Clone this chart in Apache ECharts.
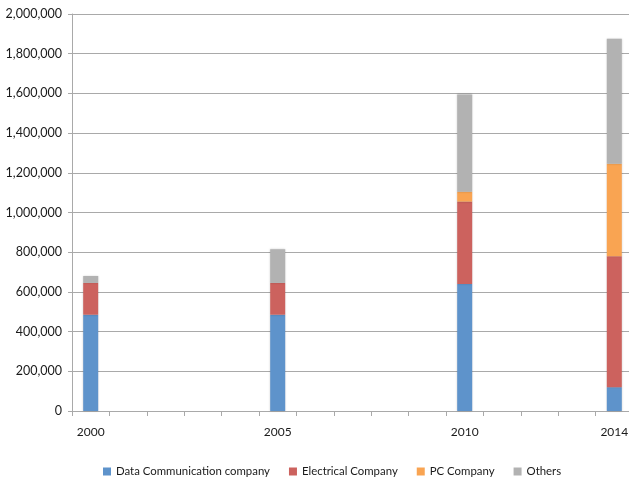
<!DOCTYPE html>
<html>
<head>
<meta charset="utf-8">
<script src="https://cdn.jsdelivr.net/npm/echarts@6/dist/echarts.min.js"></script>
<style>
  html, body { margin: 0; padding: 0; background: #fff; }
  #chart { width: 629px; height: 480px; }
</style>
</head>
<body>
<div id="chart"></div>
<script>
// Years on the category axis; only a few of them carry a label
const years = ['2000','2001','2002','2003','2004','2005','2006','2007','2008','2009','2010','2011','2012','2013','2014'];
const labelledYears = ['2000', '2005', '2010', '2014'];

// Stacked values per company type (null where no bar is drawn)
const dataCommunication = [485000, null, null, null, null, 485000, null, null, null, null, 640000, null, null, null, 120000];
const electrical        = [160000, null, null, null, null, 160000, null, null, null, null, 415000, null, null, null, 660000];
const pcCompany         = [0,      null, null, null, null, 0,      null, null, null, null, 50000,  null, null, null, 465000];
const others            = [35000,  null, null, null, null, 170000, null, null, null, null, 490000, null, null, null, 630000];

const seriesNames = ['Data Communication company', 'Electrical Company', 'PC Company', 'Others'];
const seriesColors = ['#5E93CB', '#CC625E', '#F9A452', '#B2B2B2'];
const seriesData = [dataCommunication, electrical, pcCompany, others];

const axisGray = '#A9A9A9';
const fontFamily = 'Lato, "Liberation Sans", Arial, sans-serif';

const chart = echarts.init(document.getElementById('chart'));
chart.setOption({
  animation: false,
  backgroundColor: '#fff',
  grid: { left: 72, top: 14, width: 561, bottom: 69, containLabel: false, outerBoundsMode: 'none' },
  legend: {
    left: 98,
    top: 461,
    itemWidth: 8,
    itemHeight: 8,
    itemGap: 19,
    icon: 'rect',
    textStyle: { fontFamily, fontSize: 11.4, color: '#1a1a1a' },
    data: seriesNames
  },
  xAxis: {
    type: 'category',
    data: years,
    boundaryGap: true,
    axisLine: { lineStyle: { color: axisGray, width: 1 } },
    axisTick: { show: true, interval: 0, length: 5, lineStyle: { color: axisGray } },
    axisLabel: {
      interval: (idx, val) => labelledYears.includes(val),
      margin: 15,
      hideOverlap: false,
      fontFamily, fontSize: 12, color: '#1a1a1a'
    },
    splitLine: { show: false }
  },
  yAxis: {
    type: 'value',
    min: 0,
    max: 2000000,
    interval: 200000,
    axisLine: { show: true, lineStyle: { color: axisGray, width: 1 } },
    axisTick: { show: true, length: 4, lineStyle: { color: axisGray } },
    axisLabel: {
      margin: 10,
      fontFamily, fontSize: 12.5, color: '#1a1a1a',
      formatter: v => v.toLocaleString('en-US')
    },
    splitLine: { show: true, lineStyle: { color: axisGray, width: 1 } }
  },
  series: seriesNames.map((name, i) => ({
    name,
    type: 'bar',
    stack: 'total',
    barWidth: 15,
    data: seriesData[i],
    itemStyle: {
      color: seriesColors[i],
      shadowColor: 'rgba(0,0,0,0.18)',
      shadowBlur: 2
    }
  }))
});
</script>
</body>
</html>
